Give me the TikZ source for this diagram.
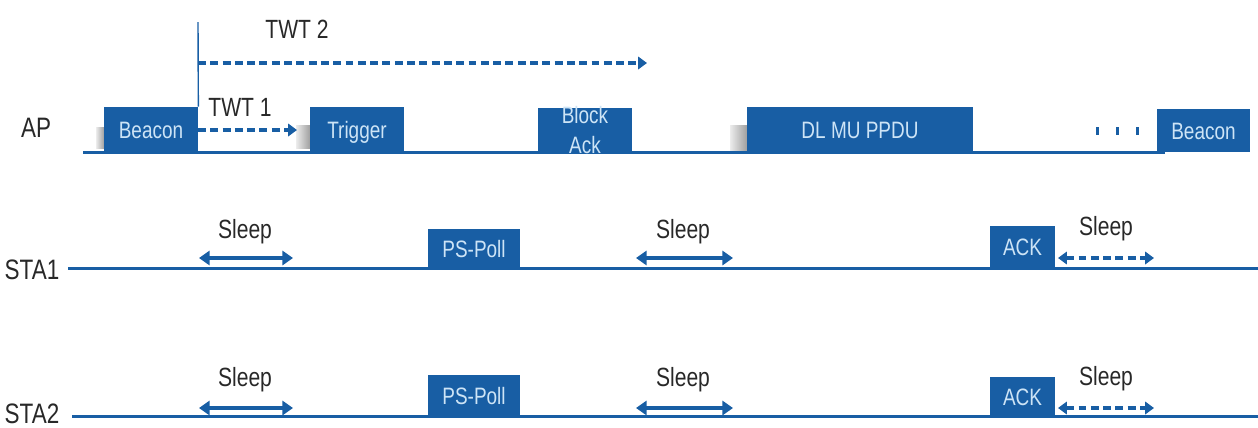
\documentclass[tikz,border=0pt]{standalone}
\usepackage{fontspec}
\setmainfont{Liberation Sans}[FakeStretch=0.8]
\usetikzlibrary{arrows.meta}

\definecolor{apblue}{RGB}{24,94,164}
\definecolor{boxtext}{RGB}{205,228,246}
\definecolor{labelgray}{RGB}{40,40,40}

\begin{document}
\begin{tikzpicture}[x=0.02cm, y=-0.02cm,
    pkt/.style={fill=apblue, text=boxtext, inner sep=0pt, minimum width=1.88cm,
                minimum height=0.9cm, text height=1.9ex, text depth=0pt,
                font=\fontsize{13.5}{15}\selectfont},
    rowlabel/.style={text=labelgray, font=\fontsize{16}{18}\selectfont},
    toplabel/.style={text=labelgray, font=\fontsize{15}{17}\selectfont},
    timeline/.style={apblue, line width=1.7pt},
    sleeparrow/.style={apblue, line width=2.2pt, {Triangle[length=6pt, width=8pt]}-{Triangle[length=6pt, width=8pt]}},
    wakearrow/.style={apblue, line width=1.9pt, dash pattern=on 4.5pt off 2.5pt, {Triangle[length=5pt, width=7pt]}-{Triangle[length=5pt, width=7pt]}},
    twtarrow/.style={apblue, line width=1.9pt, dash pattern=on 4.5pt off 2.5pt, -{Triangle[length=5pt, width=7pt]}},
    ifs/.style={shading=axis, left color=gray!15, right color=gray!75, shading angle=90}]

  \useasboundingbox (0,0) rectangle (1258,427);

  %%%%%%%%%%%%%%%%%%%%%%%%%%%%%%
  % Row labels and time lines  %
  %%%%%%%%%%%%%%%%%%%%%%%%%%%%%%
  \node[rowlabel] (ap) at (36,128) {AP};
  \node[rowlabel] (sta1) at (32,270) {STA1};
  \node[rowlabel] (sta2) at (32,414) {STA2};

  \coordinate (apstart) at (83,152);
  \coordinate (sta1start) at (68,268);
  \coordinate (sta1end) at (1258,268);
  \coordinate (sta2start) at (72,416);
  \coordinate (sta2end) at (1258,416);

  \draw[timeline] (apstart) -- (1165,152);
  \draw[timeline] (sta1start) -- (sta1end);
  \draw[timeline] (sta2start) -- (sta2end);

  %%%%%%%%%%%%%%%%%%%%%%%%%%%%%%
  % AP frames                  %
  %%%%%%%%%%%%%%%%%%%%%%%%%%%%%%
  % gaps before the frames
  \fill[ifs] (96,127) rectangle (104,148);
  \fill[ifs] (296,125) rectangle (310,148);
  \fill[ifs] (730,125) rectangle (747,150);

  \node[pkt] (beacon1) at (151,129.5) {Beacon};
  \node[pkt] (trigger) at (357,129.5) {Trigger};
  \node[pkt, minimum height=0.88cm] (blockack) at (585,130) {};
  \node[text=boxtext, align=center, font=\fontsize{13.5}{17.5}\selectfont] (blockacktext) at (585,130) {Block\\Ack};
  \node[pkt, minimum width=4.52cm] (dlmu) at (860,129.5) {DL MU PPDU};
  \node[pkt, minimum width=1.86cm, minimum height=0.86cm] (beacon2) at (1203.5,130.5) {Beacon};

  % dots before the next beacon
  \fill[apblue] (1096,127) rectangle (1099,135);
  \fill[apblue] (1116,127) rectangle (1119,135);
  \fill[apblue] (1136,127) rectangle (1139,135);

  %%%%%%%%%%%%%%%%%%%%%%%%%%%%%%
  % TWT markers                %
  %%%%%%%%%%%%%%%%%%%%%%%%%%%%%%
  \coordinate (twttop) at (198,22);
  \coordinate (twt2start) at (198,63);
  \coordinate (twt2end) at (647,63);
  \coordinate (twt1start) at (198,130);
  \coordinate (twt1end) at (297,130);

  \draw[apblue, line width=0.8pt] (beacon1.north east) -- (twttop);
  \draw[twtarrow] (twt2start) -- (twt2end);
  \draw[twtarrow] (twt1start) -- (twt1end);
  \node[toplabel] (twt2) at (297,29) {TWT 2};
  \node[toplabel] (twt1) at (240,107) {TWT 1};

  %%%%%%%%%%%%%%%%%%%%%%%%%%%%%%
  % STA1                       %
  %%%%%%%%%%%%%%%%%%%%%%%%%%%%%%
  \node[pkt, minimum width=1.84cm, minimum height=0.78cm] (poll1) at (474,248.5) {PS-Poll};
  \node[pkt, minimum width=1.3cm, minimum height=0.84cm] (ack1) at (1022.5,247) {ACK};

  \coordinate (s1a) at (199,258);
  \coordinate (s1b) at (293,258);
  \coordinate (s1c) at (636,258);
  \coordinate (s1d) at (733,258);
  \coordinate (s1e) at (1058,258);
  \coordinate (s1f) at (1154,258);
  \draw[sleeparrow] (s1a) -- (s1b);
  \draw[sleeparrow] (s1c) -- (s1d);
  \draw[wakearrow] (s1e) -- (s1f);
  \node[toplabel] (sleep11) at (245,232) {Sleep};
  \node[toplabel] (sleep12) at (683,232) {Sleep};
  \node[toplabel] (sleep13) at (1106,229) {Sleep};

  %%%%%%%%%%%%%%%%%%%%%%%%%%%%%%
  % STA2                       %
  %%%%%%%%%%%%%%%%%%%%%%%%%%%%%%
  \node[pkt, minimum width=1.84cm, minimum height=0.82cm] (poll2) at (474,395.5) {PS-Poll};
  \node[pkt, minimum width=1.3cm, minimum height=0.78cm] (ack2) at (1022.5,396.5) {ACK};

  \coordinate (s2a) at (199,408);
  \coordinate (s2b) at (293,408);
  \coordinate (s2c) at (636,408);
  \coordinate (s2d) at (733,408);
  \coordinate (s2e) at (1058,408);
  \coordinate (s2f) at (1154,408);
  \draw[sleeparrow] (s2a) -- (s2b);
  \draw[sleeparrow] (s2c) -- (s2d);
  \draw[wakearrow] (s2e) -- (s2f);
  \node[toplabel] (sleep21) at (245,380) {Sleep};
  \node[toplabel] (sleep22) at (683,380) {Sleep};
  \node[toplabel] (sleep23) at (1106,379) {Sleep};

\end{tikzpicture}
\end{document}
